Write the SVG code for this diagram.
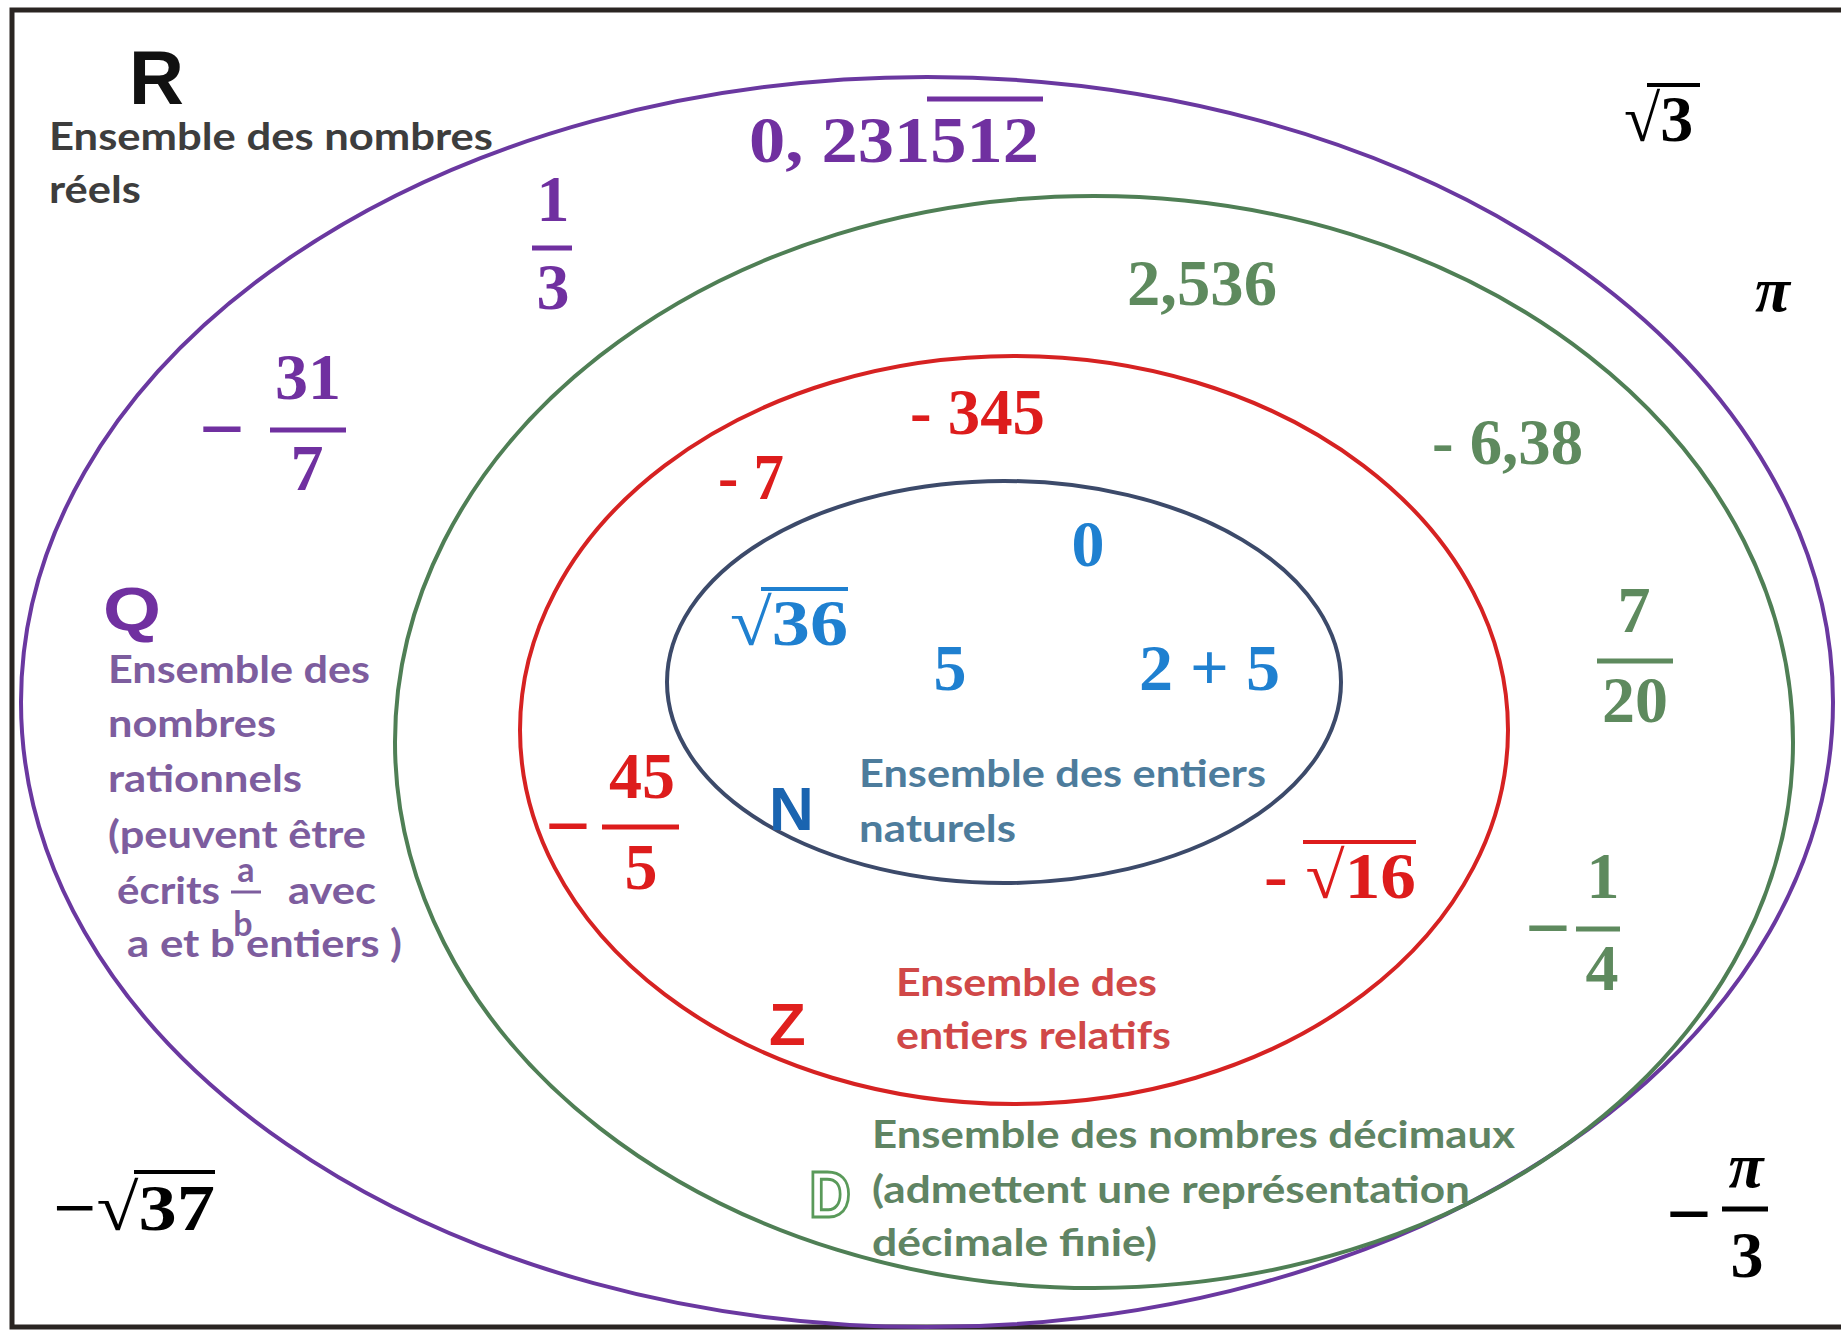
<svg xmlns="http://www.w3.org/2000/svg" width="1841" height="1330" viewBox="0 0 1841 1330">
<style>
.m{font-family:"Liberation Serif",serif;font-weight:bold;font-size:66px}
.mn{font-family:"Liberation Serif",serif;font-weight:bold;font-size:80px}
.mi{font-family:"Liberation Serif",serif;font-weight:bold;font-style:italic;font-size:64px}
.l{font-family:Lato,"Open Sans",sans-serif;font-weight:bold;font-size:38px}
.S{font-family:"Liberation Sans",sans-serif;font-weight:bold}
.pu{fill:#7030a0}.gr{fill:#5e8a5e}.rd{fill:#dd1c1c}.bl{fill:#1f80d0}.bk{fill:#000}
.bar{stroke-width:5}
</style>
<rect width="1841" height="1330" fill="#fff"/>
<g id="frame" fill="none" stroke="#2a2522" stroke-width="5">
<polyline points="1841,10 12,10 12,1327 1841,1327"/>
</g>
<g id="connectors"/>
<g id="set-R">
<text class="S" x="129" y="104" font-size="76" fill="#111">R</text>
<text class="l" x="49" y="150" textLength="444" lengthAdjust="spacingAndGlyphs" fill="#3d3d3d">Ensemble des nombres</text>
<text class="l" x="49" y="203" textLength="92" lengthAdjust="spacingAndGlyphs" fill="#3d3d3d">réels</text>
</g>
<g id="set-Q">
<ellipse cx="927" cy="702" rx="906" ry="625" fill="none" stroke="#6a38a0" stroke-width="4"/>
<text class="S" x="103" y="630" font-size="62" textLength="58" lengthAdjust="spacingAndGlyphs" fill="#7030a0">Q</text>
<g class="l" fill="#7d5d9e">
<text x="108" y="683" textLength="262" lengthAdjust="spacingAndGlyphs">Ensemble des</text>
<text x="108" y="737" textLength="168" lengthAdjust="spacingAndGlyphs">nombres</text>
<text x="108" y="792" textLength="194" lengthAdjust="spacingAndGlyphs">rationnels</text>
<text x="108" y="848" textLength="258" lengthAdjust="spacingAndGlyphs">(peuvent être</text>
<text x="117" y="904" textLength="103" lengthAdjust="spacingAndGlyphs">écrits</text>
<text x="246" y="882" text-anchor="middle" font-size="34">a</text>
<text x="243" y="936" text-anchor="middle" font-size="34">b</text>
<text x="288" y="904" textLength="88" lengthAdjust="spacingAndGlyphs">avec</text>
<text x="127" y="957" textLength="108" lengthAdjust="spacingAndGlyphs">a et b</text>
<text x="246" y="957" textLength="156" lengthAdjust="spacingAndGlyphs">entiers )</text>
</g>
<line x1="231" y1="892" x2="261" y2="892" stroke="#7d5d9e" stroke-width="3"/>
</g>
<g id="set-D">
<ellipse cx="1094" cy="742" rx="699" ry="546" fill="none" stroke="#4f7f55" stroke-width="4"/>
<text class="S" x="809" y="1217" font-size="64" textLength="42" lengthAdjust="spacingAndGlyphs" fill="#fff" stroke="#5a9a5a" stroke-width="3">D</text>
<g class="l" fill="#5f8463">
<text x="872" y="1148" textLength="643" lengthAdjust="spacingAndGlyphs">Ensemble des nombres décimaux</text>
<text x="872" y="1203" textLength="598" lengthAdjust="spacingAndGlyphs">(admettent une représentation</text>
<text x="872" y="1256" textLength="285" lengthAdjust="spacingAndGlyphs">décimale finie)</text>
</g>
</g>
<g id="set-Z">
<ellipse cx="1014" cy="730" rx="494" ry="374" fill="none" stroke="#d62222" stroke-width="4"/>
<text class="S" x="769" y="1045" font-size="60" fill="#e0201e">Z</text>
<g class="l" fill="#d04848">
<text x="896" y="996" textLength="261" lengthAdjust="spacingAndGlyphs">Ensemble des</text>
<text x="896" y="1049" textLength="275" lengthAdjust="spacingAndGlyphs">entiers relatifs</text>
</g>
</g>
<g id="set-N">
<ellipse cx="1004" cy="682" rx="337" ry="201" fill="none" stroke="#3c4a6a" stroke-width="4"/>
<text class="S" x="769" y="830" font-size="62" fill="#1a64b0">N</text>
<g class="l" fill="#4d7c9c">
<text x="859" y="787" textLength="407" lengthAdjust="spacingAndGlyphs">Ensemble des entiers</text>
<text x="859" y="842" textLength="157" lengthAdjust="spacingAndGlyphs">naturels</text>
</g>
</g>
<g id="num-0-231512">
<text class="m pu" x="749" y="162" textLength="290" lengthAdjust="spacingAndGlyphs">0, 231512</text>
<line class="bar" x1="927" y1="99" x2="1043" y2="99" stroke="#7030a0"/>
</g>
<g id="num-1-3">
<text class="m pu" x="553" y="221" text-anchor="middle">1</text>
<line class="bar" x1="532" y1="248" x2="572" y2="248" stroke="#7030a0"/>
<text class="m pu" x="553" y="309" text-anchor="middle">3</text>
</g>
<g id="num-m31-7">
<text class="mn pu" x="222" y="456" text-anchor="middle">−</text>
<text class="m pu" x="308" y="399" text-anchor="middle">31</text>
<line class="bar" x1="270" y1="430" x2="346" y2="430" stroke="#7030a0"/>
<text class="m pu" x="307" y="490" text-anchor="middle">7</text>
</g>
<g id="num-sqrt3">
<text class="m bk" x="1624" y="141">√3</text>
<line x1="1647" y1="85" x2="1700" y2="85" stroke="#000" stroke-width="4"/>
</g>
<g id="num-pi">
<text class="mi bk" x="1755" y="311">π</text>
</g>
<g id="num-2536">
<text class="m gr" x="1127" y="305" textLength="150" lengthAdjust="spacingAndGlyphs">2,536</text>
</g>
<g id="num-m638">
<text class="m gr" x="1432" y="464" textLength="151" lengthAdjust="spacingAndGlyphs">- 6,38</text>
</g>
<g id="num-7-20">
<text class="m gr" x="1634" y="632" text-anchor="middle">7</text>
<line class="bar" x1="1597" y1="661" x2="1673" y2="661" stroke="#5e8a5e"/>
<text class="m gr" x="1635" y="722" text-anchor="middle">20</text>
</g>
<g id="num-m1-4">
<text class="mn gr" x="1548" y="955" text-anchor="middle">−</text>
<text class="m gr" x="1603" y="898" text-anchor="middle">1</text>
<line class="bar" x1="1576" y1="929" x2="1620" y2="929" stroke="#5e8a5e"/>
<text class="m gr" x="1602" y="990" text-anchor="middle">4</text>
</g>
<g id="num-mpi-3">
<text class="mn bk" x="1689" y="1241" text-anchor="middle">−</text>
<text class="mi bk" x="1746" y="1187" text-anchor="middle">π</text>
<line class="bar" x1="1722" y1="1209" x2="1768" y2="1209" stroke="#000"/>
<text class="m bk" x="1747" y="1277" text-anchor="middle">3</text>
</g>
<g id="num-msqrt37">
<text class="m bk" x="53" y="1230" textLength="162" lengthAdjust="spacingAndGlyphs">−√37</text>
<line x1="134" y1="1172" x2="215" y2="1172" stroke="#000" stroke-width="4"/>
</g>
<g id="num-m345">
<text class="m rd" x="910" y="434" textLength="135" lengthAdjust="spacingAndGlyphs">- 345</text>
</g>
<g id="num-m7">
<text class="m rd" x="718" y="499" textLength="66" lengthAdjust="spacingAndGlyphs">- 7</text>
</g>
<g id="num-m45-5">
<text class="mn rd" x="568" y="853" text-anchor="middle">−</text>
<text class="m rd" x="642" y="798" text-anchor="middle">45</text>
<line class="bar" x1="602" y1="827" x2="679" y2="827" stroke="#dd1c1c"/>
<text class="m rd" x="641" y="889" text-anchor="middle">5</text>
</g>
<g id="num-msqrt16">
<text class="m rd" x="1264" y="898" textLength="152" lengthAdjust="spacingAndGlyphs">- √16</text>
<line x1="1303" y1="842" x2="1416" y2="842" stroke="#dd1c1c" stroke-width="4"/>
</g>
<g id="num-0">
<text class="m bl" x="1088" y="566" text-anchor="middle">0</text>
</g>
<g id="num-sqrt36">
<text class="m bl" x="730" y="645" textLength="118" lengthAdjust="spacingAndGlyphs">√36</text>
<line x1="761" y1="589" x2="848" y2="589" stroke="#1f80d0" stroke-width="4"/>
</g>
<g id="num-5">
<text class="m bl" x="950" y="690" text-anchor="middle">5</text>
</g>
<g id="num-2p5">
<text class="m bl" x="1139" y="690" textLength="141" lengthAdjust="spacingAndGlyphs">2 + 5</text>
</g>
</svg>
